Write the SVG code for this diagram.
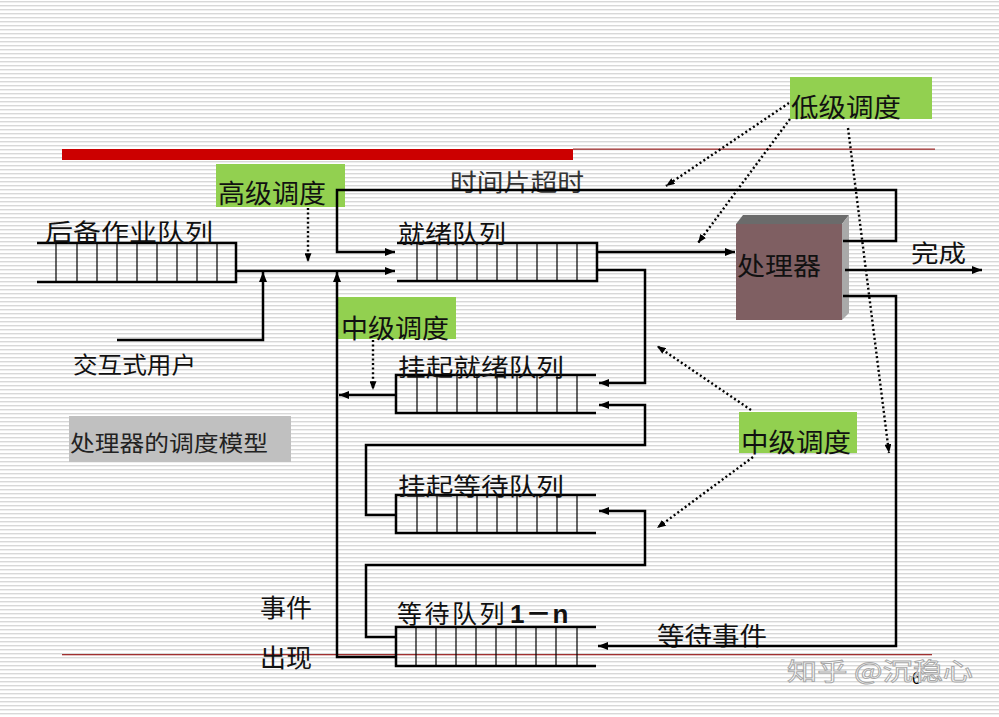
<svg xmlns="http://www.w3.org/2000/svg" width="999" height="717" viewBox="0 0 999 717">
<style>
.t{font-family:"Noto Sans CJK SC","Noto Sans",sans-serif;fill:#111}
.ln{fill:none;stroke:#000;stroke-width:2.5}
.cell{fill:none;stroke:#000;stroke-width:1.2}
.dot{fill:none;stroke:#000;stroke-width:2.4;stroke-dasharray:2 2.6}
.green{fill:#92d050}
</style>
<defs>
<pattern id="bg" width="8" height="4" patternUnits="userSpaceOnUse">
<rect width="8" height="4" fill="#ffffff"/>
<rect y="1" width="8" height="1.4" fill="#d8d8d8"/>
</pattern>
<marker id="a" viewBox="0 0 10 8" refX="10" refY="4" markerWidth="10" markerHeight="8" markerUnits="userSpaceOnUse" orient="auto">
<path d="M0,0 L10,4 L0,8 z" fill="#000"/>
</marker>
<marker id="d" viewBox="0 0 10 8" refX="10" refY="4" markerWidth="9" markerHeight="7" markerUnits="userSpaceOnUse" orient="auto">
<path d="M0,0 L10,4 L0,8 z" fill="#000"/>
</marker>
</defs>

<rect width="999" height="717" fill="url(#bg)"/>

<g id="decor">
<rect x="62" y="149" width="511" height="11" fill="#cc0000"/>
<rect x="573" y="148.5" width="362" height="1.3" fill="#a03030"/>
<rect x="62" y="654" width="870" height="1.3" fill="#a03030"/>
</g>

<g id="backup-queue">
<path class="ln" d="M37,243 H236 V282 H37"/>
<path class="cell" d="M56,243V282M77,243V282M97,243V282M117,243V282M137,243V282M157,243V282M177,243V282M197,243V282M217,243V282"/>
<text class="t" x="45" y="241" font-size="24" textLength="168" lengthAdjust="spacingAndGlyphs">后备作业队列</text>
</g>

<g id="ready-queue">
<path class="ln" d="M397,243 H597 V281 H397"/>
<path class="cell" d="M417,243V281M437,243V281M457,243V281M477,243V281M497,243V281M517,243V281M537,243V281M557,243V281M577,243V281"/>
<text class="t" x="398" y="243" font-size="25" textLength="108" lengthAdjust="spacingAndGlyphs">就绪队列</text>
</g>

<g id="suspend-ready-queue">
<path class="ln" d="M596,375 H396 V413 H596"/>
<path class="cell" d="M417,375V413M437,375V413M457,375V413M477,375V413M497,375V413M517,375V413M537,375V413M557,375V413M577,375V413"/>
<text class="t" x="398" y="376" font-size="24" textLength="166" lengthAdjust="spacingAndGlyphs">挂起就绪队列</text>
</g>

<g id="suspend-wait-queue">
<path class="ln" d="M596,495 H396 V533 H596"/>
<path class="cell" d="M417,495V533M437,495V533M457,495V533M477,495V533M497,495V533M517,495V533M537,495V533M557,495V533M577,495V533"/>
<text class="t" x="398" y="495" font-size="24" textLength="166" lengthAdjust="spacingAndGlyphs">挂起等待队列</text>
</g>

<g id="wait-queue">
<path class="ln" d="M596,627 H396 V666 H596"/>
<path class="cell" d="M416,627V666M436,627V666M456,627V666M476,627V666M496,627V666M516,627V666M536,627V666M556,627V666M577,627V666"/>
<text class="t" x="397" y="623" font-size="25" letter-spacing="2.5">等待队列<tspan x="510" font-family="'Liberation Sans','Noto Sans CJK SC',sans-serif" font-weight="bold" font-size="26" letter-spacing="1">1－n</tspan></text>
</g>

<g id="processor">
<polygon points="736,224 743,215 849,215 842,224" fill="#6b6b6b"/>
<polygon points="842,224 849,215 849,313 842,320" fill="#a9a9a9"/>
<rect x="736" y="224" width="106" height="96" fill="#7f5f62"/>
<text class="t" x="737" y="275" font-size="25" textLength="84" lengthAdjust="spacingAndGlyphs">处理器</text>
</g>

<g id="label-high">
<rect class="green" x="216" y="164" width="129" height="43"/>
<text class="t" x="218" y="203" font-size="26" textLength="108" lengthAdjust="spacingAndGlyphs">高级调度</text>
</g>

<g id="label-low">
<rect class="green" x="790" y="77" width="142" height="42"/>
<text class="t" x="791" y="117" font-size="26" textLength="110" lengthAdjust="spacingAndGlyphs">低级调度</text>
</g>

<g id="label-mid-left">
<rect class="green" x="338" y="297" width="118" height="42"/>
<text class="t" x="341" y="338" font-size="26" textLength="108" lengthAdjust="spacingAndGlyphs">中级调度</text>
</g>

<g id="label-mid-right">
<rect class="green" x="739" y="412" width="118" height="41"/>
<text class="t" x="741" y="452" font-size="26" textLength="110" lengthAdjust="spacingAndGlyphs">中级调度</text>
</g>

<g id="label-model">
<rect x="69" y="416" width="222" height="46" fill="#c0c0c0"/>
<text class="t" x="70" y="451" font-size="22" textLength="198" lengthAdjust="spacingAndGlyphs" style="fill:#222">处理器的调度模型</text>
</g>

<g id="texts">
<text class="t" x="450" y="191" font-size="24" textLength="134" lengthAdjust="spacingAndGlyphs" style="fill:#333">时间片超时</text>
<text class="t" x="911" y="262" font-size="24" textLength="55" lengthAdjust="spacingAndGlyphs">完成</text>
<text class="t" x="73" y="373" font-size="23" textLength="123" lengthAdjust="spacingAndGlyphs">交互式用户</text>
<text class="t" x="260" y="617" font-size="25" textLength="52" lengthAdjust="spacingAndGlyphs">事件</text>
<text class="t" x="260" y="667" font-size="25" textLength="52" lengthAdjust="spacingAndGlyphs">出现</text>
<text class="t" x="657" y="645" font-size="25" textLength="110" lengthAdjust="spacingAndGlyphs">等待事件</text>
<text x="912" y="684" font-size="16" font-family="'Liberation Sans',sans-serif" fill="#000">6</text>
<text x="787" y="680" font-size="24" textLength="186" lengthAdjust="spacingAndGlyphs" font-family="'Noto Sans CJK SC',sans-serif" fill="#ffffff" stroke="#a8a8a8" stroke-width="0.9">知乎 @沉稳心</text>
</g>

<g id="connectors">
<path class="ln" d="M236,271 H395" marker-end="url(#a)"/>
<path class="ln" d="M117,340 H263 V272" marker-end="url(#a)"/>
<path class="ln" d="M396,657 H337 V272" marker-end="url(#a)"/>
<path class="ln" d="M843,241 H896 V190 H337 V252 H395" marker-end="url(#a)"/>
<path class="ln" d="M597,252 H735" marker-end="url(#a)"/>
<path class="ln" d="M598,270 H645 V383 H599" marker-end="url(#a)"/>
<path class="ln" d="M396,395 H339" marker-end="url(#a)"/>
<path class="ln" d="M396,515 H366 V445 H645 V405 H599" marker-end="url(#a)"/>
<path class="ln" d="M396,637 H366 V565 H645 V511 H599" marker-end="url(#a)"/>
<path class="ln" d="M843,296 H896 V646 H598" marker-end="url(#a)"/>
<path class="ln" d="M845,270 H982" marker-end="url(#a)"/>
<path class="dot" d="M308,208 V262" marker-end="url(#d)"/>
<path class="dot" d="M373,340 V390" marker-end="url(#d)"/>
<path class="dot" d="M789,103 L666,186" marker-end="url(#d)"/>
<path class="dot" d="M790,119 L698,243" marker-end="url(#d)"/>
<path class="dot" d="M848,128 L889,453" marker-end="url(#d)"/>
<path class="dot" d="M751,410 L657,346" marker-end="url(#d)"/>
<path class="dot" d="M753,457 L657,528" marker-end="url(#d)"/>
</g>
</svg>
